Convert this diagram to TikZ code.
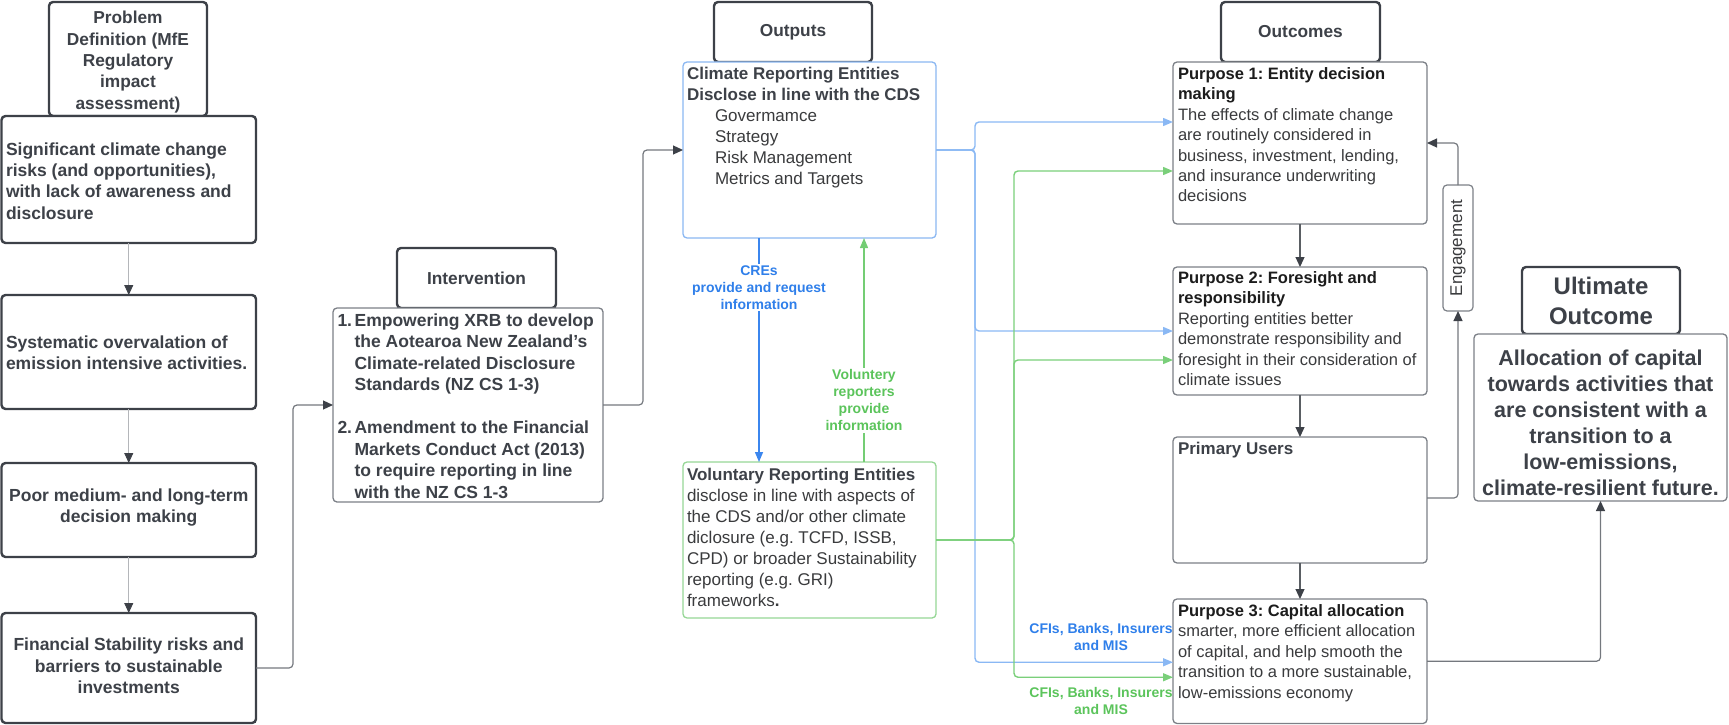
\documentclass[tikz,border=0pt]{standalone}
\usepackage{fontspec}
\setmainfont{Liberation Sans}
\usetikzlibrary{arrows.meta,calc}
\frenchspacing

\definecolor{ink}{HTML}{3D4148}
\definecolor{edge}{HTML}{7C8087}
\definecolor{faint}{HTML}{B4B6BA}
\definecolor{wire}{HTML}{74787E}
\definecolor{titleink}{HTML}{1C1C1C}
\definecolor{bodyink}{HTML}{3A3B3D}
\definecolor{skyline}{HTML}{8AB8F4}
\definecolor{skyedge}{HTML}{8BB8F2}
\definecolor{bluearrow}{HTML}{3B86EE}
\definecolor{bluetext}{HTML}{2F7FEA}
\definecolor{leafline}{HTML}{7ACF7A}
\definecolor{leafedge}{HTML}{96D796}
\definecolor{greentext}{HTML}{5BC45B}

\begin{document}
\begin{tikzpicture}[x=1pt,y=-1pt,
  frame/.style={rounded corners=4pt, fill=white, inner sep=0pt, outer sep=0pt, anchor=north west},
  heavy/.style={frame, draw=ink, line width=2.4pt},
  light/.style={frame, draw=edge, line width=1.3pt},
  txt/.style={inner sep=0pt, outer sep=0pt},
  lefttxt/.style={txt, font=\fontsize{17.5}{21.3}\selectfont\bfseries, text=ink},
  hdtxt/.style={txt, font=\fontsize{17.3}{21.3}\selectfont\bfseries, text=ink, align=center},
  boxtxt/.style={txt, font=\fontsize{17}{21}\selectfont, text=bodyink, align=left, anchor=north west},
  purtxt/.style={txt, font=\fontsize{16.5}{20.4}\selectfont, text=bodyink, align=left, anchor=north west},
  lbl/.style={font=\fontsize{14}{17}\selectfont\bfseries, align=center, inner sep=1.5pt},
  greyflow/.style={draw=faint, line width=0.8pt, -{Triangle[length=10pt,width=9pt,color=ink]}},
  wireflow/.style={draw=wire, line width=1.2pt, rounded corners=4pt, -{Triangle[length=10pt,width=9pt,color=ink]}},
  stepflow/.style={draw=ink!85, line width=1.2pt, -{Triangle[length=10pt,width=9pt,color=ink]}},
  blueflow/.style={draw=skyline, line width=1.4pt, rounded corners=4pt, -{Triangle[length=10pt,width=8pt]}},
  greenflow/.style={draw=leafline, line width=1.4pt, rounded corners=4pt, -{Triangle[length=10pt,width=8pt]}}
]
\useasboundingbox (0,0) rectangle (1729,725);

% ---- column headers (drawn first, the boxes below overlap them) ----
\node[heavy, minimum width=158, minimum height=114] (prob) at (49,2) {};
\node[hdtxt] (prob-t) at ($(prob.center)+(0,3)$) {Problem\\Definition (MfE\\Regulatory\\impact\\assessment)};

\node[heavy, minimum width=159, minimum height=60] (inthd) at (397,248) {};
\node[hdtxt] (inthd-t) at (inthd.center) {Intervention};

\node[heavy, minimum width=158, minimum height=60] (outhd) at (714,2) {};
\node[hdtxt] (outhd-t) at (outhd.center) {Outputs};

\node[heavy, minimum width=159, minimum height=60] (ochd) at (1221,2) {};
\node[hdtxt] (ochd-t) at (ochd.center) {Outcomes};

\node[heavy, minimum width=158, minimum height=67] (ulthd) at (1522,267) {};
\node[hdtxt, font=\fontsize{24}{30}\selectfont\bfseries] (ulthd-t) at (ulthd.center) {Ultimate\\Outcome};

% ---- problem definition column ----
\node[heavy, minimum width=254.5, minimum height=127] (sig) at (1.5,116) {};
\node[lefttxt, align=left, anchor=west] (sig-t) at ($(sig.west)+(4.5,1.5)$)
  {Significant climate change\\risks (and opportunities),\\with lack of awareness and\\disclosure};

\node[heavy, minimum width=254.5, minimum height=114] (sys) at (1.5,295) {};
\node[lefttxt, align=left, anchor=west] (sys-t) at ($(sys.west)+(4.5,0.5)$)
  {Systematic overvalation of\\emission intensive activities.};

\node[heavy, minimum width=254.5, minimum height=94] (poor) at (1.5,463) {};
\node[lefttxt, align=center] (poor-t) at ($(poor.center)+(0,-2.5)$)
  {Poor medium- and long-term\\decision making};

\node[heavy, minimum width=254.5, minimum height=110] (fin) at (1.5,613) {};
\node[lefttxt, align=center] (fin-t) at ($(fin.center)+(0,-2)$)
  {Financial Stability risks and\\barriers to sustainable\\investments};

% ---- intervention ----
\node[light, minimum width=270, minimum height=194] (int) at (333,308) {};
\node[txt, font=\fontsize{17.5}{21.5}\selectfont\bfseries, text=ink, anchor=north west] (int-t)
  at ($(int.north west)+(4.5,3)$)
  {\begin{tabular}{@{}l@{\hspace{2.5pt}}l@{}}
   1. & Empowering XRB to develop\\
      & the Aotearoa New Zealand’s\\
      & Climate-related Disclosure\\
      & Standards (NZ CS 1-3)\\
      & \\
   2. & Amendment to the Financial\\
      & Markets Conduct Act (2013)\\
      & to require reporting in line\\
      & with the NZ CS 1-3
   \end{tabular}};

% ---- outputs ----
\node[frame, draw=skyedge, line width=1.3pt, minimum width=253, minimum height=176] (cre) at (683,62) {};
\node[boxtxt] (cre-t) at ($(cre.north west)+(4,5.5)$)
  {\textcolor{ink}{\bfseries Climate Reporting Entities}\\
   \textcolor{ink}{\bfseries Disclose in line with the CDS}\\
   \hspace*{28pt}Govermamce\\
   \hspace*{28pt}Strategy\\
   \hspace*{28pt}Risk Management\\
   \hspace*{28pt}Metrics and Targets};

\node[frame, draw=leafedge, line width=1.3pt, minimum width=253, minimum height=156] (vre) at (683,462) {};
\node[boxtxt] (vre-t) at ($(vre.north west)+(4,6.5)$)
  {\textcolor{ink}{\bfseries Voluntary Reporting Entities}\\
   disclose in line with aspects of\\
   the CDS and/or other climate\\
   diclosure (e.g. TCFD, ISSB,\\
   CPD) or broader Sustainability\\
   reporting (e.g. GRI)\\
   frameworks\textbf{.}};

% ---- outcomes ----
\node[light, minimum width=254, minimum height=162] (p1) at (1173,62) {};
\node[purtxt] (p1-t) at ($(p1.north west)+(5,5.5)$)
  {\textcolor{titleink}{\bfseries Purpose 1: Entity decision}\\
   \textcolor{titleink}{\bfseries making}\\
   The effects of climate change\\
   are routinely considered in\\
   business, investment, lending,\\
   and insurance underwriting\\
   decisions};

\node[light, minimum width=254, minimum height=128] (p2) at (1173,267) {};
\node[purtxt] (p2-t) at ($(p2.north west)+(5,4.5)$)
  {\textcolor{titleink}{\bfseries Purpose 2: Foresight and}\\
   \textcolor{titleink}{\bfseries responsibility}\\
   Reporting entities better\\
   demonstrate responsibility and\\
   foresight in their consideration of\\
   climate issues};

\node[light, minimum width=254, minimum height=126] (pu) at (1173,437) {};
\node[purtxt, font=\fontsize{17}{21}\selectfont\bfseries, text=ink] (pu-t) at ($(pu.north west)+(5,5.5)$)
  {Primary Users};

\node[light, minimum width=254, minimum height=124.5] (p3) at (1173,599) {};
\node[purtxt] (p3-t) at ($(p3.north west)+(5,5.5)$)
  {\textcolor{titleink}{\bfseries Purpose 3: Capital allocation}\\
   smarter, more efficient allocation\\
   of capital, and help smooth the\\
   transition to a more sustainable,\\
   low-emissions economy};

\node[light, line width=1.2pt, minimum width=30, minimum height=126] (eng) at (1443,185) {};
\node[txt, rotate=90, font=\fontsize{17}{21}\selectfont, text=bodyink] (eng-t) at (eng.center) {Engagement};

\node[light, minimum width=253, minimum height=167] (ult) at (1474,334) {};
\node[txt, font=\fontsize{21.5}{26}\selectfont\bfseries, text=ink, align=center] (ult-t)
  at ($(ult.center)+(0,5)$)
  {Allocation of capital\\towards activities that\\are consistent with a\\transition to a\\low-emissions,\\climate-resilient future.};

% ---- connectors: problem chain ----
\draw[greyflow] (sig.south) -- (sys.north);
\draw[greyflow] (sys.south) -- (poor.north);
\draw[greyflow] (poor.south) -- (fin.north);
\draw[wireflow] (fin.east) -- ++(37,0) |- (int.west);
\draw[wireflow] (int.east) -- ++(40,0) |- (cre.west);

% ---- outputs to each other ----
\draw[draw=bluearrow, line width=1.4pt, -{Triangle[length=10pt,width=8pt]}]
  ([xshift=-50.5pt]cre.south) -- node[pos=0.22, lbl, fill=white, text=bluetext] (cre-lbl)
  {CREs\\provide and request\\information} ([xshift=-50.5pt]vre.north);
\draw[draw=greentext!85, line width=1.4pt, -{Triangle[length=10pt,width=8pt]}]
  ([xshift=54.5pt]vre.north) -- node[pos=0.275, lbl, fill=white, text=greentext] (vre-lbl)
  {Voluntery\\reporters\\provide\\information} ([xshift=54.5pt]cre.south);

% ---- outputs to outcomes ----
\draw[blueflow] (cre.east) -- ++(39,0) |- ([yshift=21pt]p1.west);
\draw[blueflow] (cre.east) -- ++(39,0) |- (p2.west);
\draw[blueflow] (cre.east) -- ++(39,0) |- ([yshift=-1pt]p3.west);
\draw[greenflow] (vre.east) -- ++(78,0) |- ([yshift=-28pt]p1.west);
\draw[greenflow] (vre.east) -- ++(78,0) |- ([yshift=-29pt]p2.west);
\draw[greenflow] (vre.east) -- ++(78,0) |- ([yshift=-16pt]p3.west);

\node[lbl, text=bluetext] (cfi-blue) at (1101,636.5) {CFIs, Banks, Insurers\\and MIS};
\node[lbl, text=greentext] (cfi-green) at (1101,700.5) {CFIs, Banks, Insurers\\and MIS};

% ---- outcome chain ----
\draw[stepflow] (p1.south) -- (p1.south |- p2.north);
\draw[stepflow] (p2.south) -- (p2.south |- pu.north);
\draw[stepflow] (pu.south) -- (pu.south |- p3.north);
\draw[wireflow] ([yshift=2pt]pu.east) -| (eng.south);
\draw[wireflow] (eng.north) |- (p1.east);
\draw[wireflow] (p3.east) -| (ult.south);

\end{tikzpicture}
\end{document}
